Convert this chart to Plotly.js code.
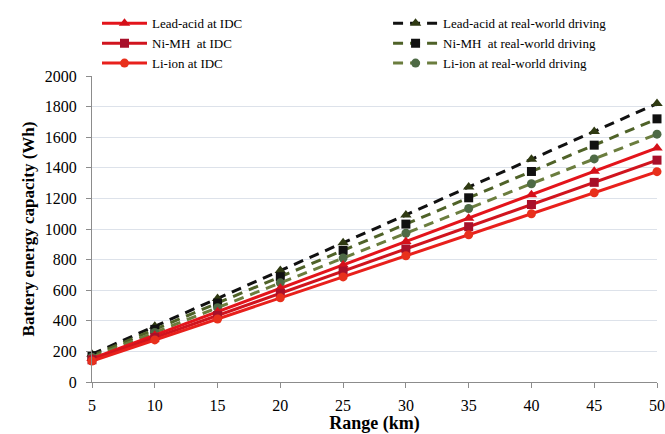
<!DOCTYPE html>
<html><head><meta charset="utf-8">
<script src="https://cdn.plot.ly/plotly-3.0.1.min.js"></script>
<style>html,body{margin:0;padding:0;background:#fff}#c{width:665px;height:434px}</style>
</head><body><div id="c"></div>
<script>
const rangeKm = [5, 10, 15, 20, 25, 30, 35, 40, 45, 50];
const leadAcidIDC = [153, 306, 459, 612, 765, 918, 1071, 1224, 1377, 1530];
const niMHIDC = [145, 290, 435, 580, 725, 870, 1015, 1160, 1305, 1450];
const liIonIDC = [137, 275, 412, 550, 687, 825, 962, 1100, 1237, 1375];
const leadAcidReal = [182, 364, 546, 728, 910, 1092, 1274, 1456, 1638, 1820];
const niMHReal = [172, 344, 516, 688, 860, 1032, 1204, 1376, 1548, 1720];
const liIonReal = [162, 324, 486, 648, 810, 972, 1134, 1296, 1458, 1620];
const yTicks = [0, 200, 400, 600, 800, 1000, 1200, 1400, 1600, 1800, 2000];

const serif = "Liberation Serif";
function tr(name, y, lineColor, dash, sym, mColor, legend) {
  return {x: rangeKm, y: y, name: name, type: 'scatter', mode: 'lines+markers',
    legend: legend, cliponaxis: false,
    line: {color: lineColor, width: 3, dash: dash},
    marker: {symbol: sym, size: sym === 'triangle-up' ? 10 : 9, color: mColor, line: {width: 0}}};
}
const data = [
  tr('Lead-acid at real-world driving', leadAcidReal, '#111111', '10px,7px', 'triangle-up', '#2f3a12', 'legend2'),
  tr('Ni-MH  at real-world driving', niMHReal, '#4f6228', '10px,7px', 'square', '#111111', 'legend2'),
  tr('Li-ion at real-world driving', liIonReal, '#6b7d3e', '10px,7px', 'circle', '#4e6a45', 'legend2'),
  tr('Lead-acid at IDC', leadAcidIDC, '#e3141b', 'solid', 'triangle-up', '#d4101a', 'legend'),
  tr('Ni-MH  at IDC', niMHIDC, '#d0141e', 'solid', 'square', '#a8102a', 'legend'),
  tr('Li-ion at IDC', liIonIDC, '#e8201c', 'solid', 'circle', '#e8301c', 'legend')
];
const layout = {
  width: 665, height: 434,
  margin: {l: 92, r: 8, t: 70, b: 52},
  paper_bgcolor: '#fff', plot_bgcolor: '#fff',
  font: {family: serif, size: 15, color: '#000'},
  xaxis: {range: [5, 50], tickvals: rangeKm, ticks: 'outside', ticklen: 5, tickcolor: '#8c8c8c',
    showline: true, linecolor: '#8c8c8c', linewidth: 1, showgrid: false, zeroline: false,
    ticklabelstandoff: 4,
    tickfont: {family: serif, size: 16},
    title: {text: '<b>Range (km)</b>', font: {family: serif, size: 18}, standoff: 3}},
  yaxis: {range: [0, 2000], tickvals: yTicks, ticks: 'outside', ticklen: 5, tickcolor: '#8c8c8c',
    showline: true, linecolor: '#8c8c8c', linewidth: 1, gridcolor: '#dde2ea', zeroline: false,
    ticklabelstandoff: 6,
    tickfont: {family: serif, size: 16},
    title: {text: '<b>Battery energy capacity (Wh)</b>', font: {family: serif, size: 17}, standoff: 5}},
  legend: {x: 0.00885, y: 1.221, xref: 'paper', yref: 'paper', xanchor: 'left', yanchor: 'top',
    orientation: 'v', traceorder: 'normal', bgcolor: 'rgba(0,0,0,0)',
    font: {family: serif, size: 13}, itemwidth: 45},
  legend2: {x: 0.524, y: 1.221, xref: 'paper', yref: 'paper', xanchor: 'left', yanchor: 'top',
    orientation: 'v', traceorder: 'normal', bgcolor: 'rgba(0,0,0,0)',
    font: {family: serif, size: 13}, itemwidth: 45},
  showlegend: true
};
Plotly.newPlot('c', data, layout, {displayModeBar: false, staticPlot: true});
</script></body></html>
